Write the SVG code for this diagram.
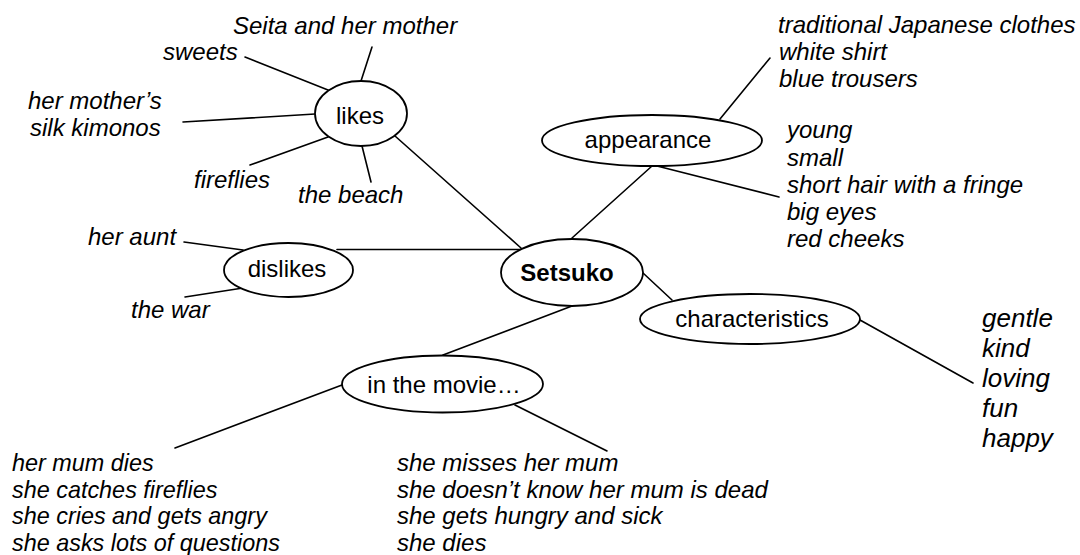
<svg xmlns="http://www.w3.org/2000/svg" width="1080" height="555" viewBox="0 0 1080 555">
<style>
.bg{fill:#ffffff}
.edge{stroke:#000;stroke-width:1.6;fill:none;stroke-linecap:round}
.oval{fill:#fff;stroke:#000;stroke-width:1.8}
.lbl{font-family:"Liberation Sans",Arial,sans-serif;font-size:24px;fill:#000;text-anchor:middle}
.bold{font-weight:bold}
.it{font-family:"Liberation Sans",Arial,sans-serif;font-size:24px;font-style:italic;fill:#000}
.big{font-size:26px}
.sm{font-size:23.4px}
</style>
<rect class="bg" x="0" y="0" width="1080" height="555"/>
<g id="connectors">
  <line class="edge" x1="361" y1="81" x2="372" y2="47"/>
  <line class="edge" x1="245" y1="57" x2="328" y2="90"/>
  <line class="edge" x1="183" y1="122" x2="315" y2="114"/>
  <line class="edge" x1="250" y1="165" x2="328" y2="137"/>
  <line class="edge" x1="362" y1="146" x2="371" y2="182"/>
  <line class="edge" x1="395" y1="136" x2="521" y2="248"/>
  <line class="edge" x1="337" y1="249.5" x2="522" y2="249.5"/>
  <line class="edge" x1="184" y1="242" x2="243" y2="250"/>
  <line class="edge" x1="185" y1="297" x2="243" y2="288"/>
  <line class="edge" x1="572" y1="238" x2="652" y2="166"/>
  <line class="edge" x1="720" y1="119" x2="770" y2="58"/>
  <line class="edge" x1="657" y1="166" x2="779" y2="197"/>
  <line class="edge" x1="643" y1="273" x2="672" y2="300"/>
  <line class="edge" x1="860" y1="320" x2="973" y2="383"/>
  <line class="edge" x1="572" y1="306" x2="443" y2="355"/>
  <line class="edge" x1="342" y1="385" x2="175" y2="448"/>
  <line class="edge" x1="515" y1="405" x2="607" y2="451"/>
</g>
<g id="node-setsuko">
  <ellipse class="oval" cx="572" cy="272.5" rx="71" ry="33.5"/>
  <text class="lbl bold" x="567" y="281">Setsuko</text>
</g>
<g id="node-likes">
  <ellipse class="oval" cx="361" cy="113.5" rx="46" ry="32.5"/>
  <text class="lbl" x="360" y="124">likes</text>
</g>
<g id="node-dislikes">
  <ellipse class="oval" cx="288.5" cy="270" rx="64.5" ry="27"/>
  <text class="lbl" x="287" y="277">dislikes</text>
</g>
<g id="node-appearance">
  <ellipse class="oval" cx="652" cy="140.5" rx="110" ry="25.5"/>
  <text class="lbl" x="648" y="148">appearance</text>
</g>
<g id="node-characteristics">
  <ellipse class="oval" cx="750" cy="319" rx="110" ry="25"/>
  <text class="lbl" x="752" y="327">characteristics</text>
</g>
<g id="node-movie">
  <ellipse class="oval" cx="442.5" cy="384" rx="100.5" ry="28.5"/>
  <text class="lbl" x="444" y="393">in the movie…</text>
</g>
<g id="leaf-seita"><text class="it" x="233" y="34">Seita and her mother</text></g>
<g id="leaf-sweets"><text class="it" x="163" y="60">sweets</text></g>
<g id="leaf-kimonos"><text class="it" x="28" y="109">her mother’s</text><text class="it" x="30" y="136">silk kimonos</text></g>
<g id="leaf-fireflies"><text class="it" x="194" y="188">fireflies</text></g>
<g id="leaf-beach"><text class="it" x="298" y="203">the beach</text></g>
<g id="leaf-aunt"><text class="it" x="88" y="245">her aunt</text></g>
<g id="leaf-war"><text class="it" x="131" y="318">the war</text></g>
<g id="leaf-clothes">
  <text class="it" x="778" y="33">traditional Japanese clothes</text>
  <text class="it" x="779" y="60">white shirt</text>
  <text class="it" x="779" y="87">blue trousers</text>
</g>
<g id="leaf-looks">
  <text class="it" x="787" y="138">young</text>
  <text class="it" x="787" y="166">small</text>
  <text class="it" x="787" y="193">short hair with a fringe</text>
  <text class="it" x="787" y="220">big eyes</text>
  <text class="it" x="787" y="247">red cheeks</text>
</g>
<g id="leaf-traits">
  <text class="it big" x="982" y="327">gentle</text>
  <text class="it big" x="982" y="357">kind</text>
  <text class="it big" x="982" y="387">loving</text>
  <text class="it big" x="982" y="417">fun</text>
  <text class="it big" x="982" y="447">happy</text>
</g>
<g id="leaf-movie-left">
  <text class="it sm" x="12" y="471">her mum dies</text>
  <text class="it sm" x="12" y="498">she catches fireflies</text>
  <text class="it sm" x="12" y="524">she cries and gets angry</text>
  <text class="it sm" x="12" y="551">she asks lots of questions</text>
</g>
<g id="leaf-movie-right">
  <text class="it" x="397" y="471">she misses her mum</text>
  <text class="it" x="397" y="498">she doesn’t know her mum is dead</text>
  <text class="it" x="397" y="524">she gets hungry and sick</text>
  <text class="it" x="397" y="551">she dies</text>
</g>
</svg>
